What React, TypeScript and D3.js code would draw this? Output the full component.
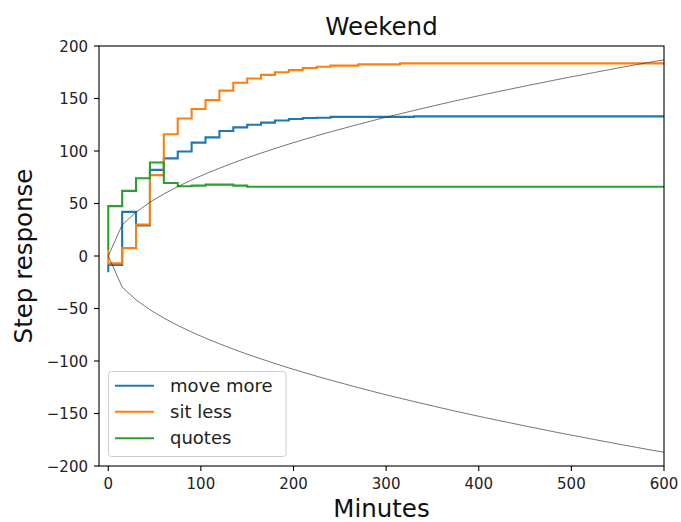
import React from "react";
import * as d3 from "d3";

// time grid (minutes), 15-minute steps
const minutes: number[] = [
  0, 15, 30, 45, 60, 75, 90, 105, 120, 135, 150, 165, 180, 195, 210, 225, 240, 255, 270, 285,
  300, 315, 330, 345, 360, 375, 390, 405, 420, 435, 450, 465, 480, 495, 510, 525, 540, 555, 570, 585, 600,
];

const moveMore: number[] = [
  -15.5, -8.5, 42, 29, 82, 93, 99.5, 108, 113, 119, 122.5, 125, 127, 129, 130.5, 131.5, 131.7, 132.5, 132.5, 132.5,
  132.5, 132.5, 132.5, 133, 133, 133, 133, 133, 133, 133, 133, 133, 133, 133, 133, 133, 133, 133, 133, 133, 133,
];

const sitLess: number[] = [
  5.5, -7, 7.5, 30, 77, 116, 131, 140, 148.5, 157.5, 165, 169, 172.5, 175, 177, 179, 180.3, 181.3, 181.3, 182.5,
  182.5, 182.5, 183.5, 183.5, 183.5, 183.5, 183.5, 183.5, 183.5, 183.5, 183.5, 183.5, 183.5, 183.5, 183.5, 183.5,
  183.5, 183.5, 183.5, 183.5, 183.5,
];

const quotes: number[] = [
  5.7, 47.5, 62, 74, 89, 69.5, 66.5, 67, 68, 68, 67, 66, 66, 66, 66, 66, 66, 66, 66, 66,
  66, 66, 66, 66, 66, 66, 66, 66, 66, 66, 66, 66, 66, 66, 66, 66, 66, 66, 66, 66, 66,
];

// upper / lower gray bound curves
const boundUpper: number[] = [
  0, 29.6, 41.8, 51.2, 59.1, 66.1, 72.4, 78.2, 83.6, 88.7, 93.5, 98.0, 102.4, 106.6, 110.6, 114.5, 118.2, 121.8,
  125.4, 128.8, 132.2, 135.4, 138.6, 141.7, 144.8, 147.8, 150.7, 153.6, 156.4, 159.1, 161.9, 164.5, 167.2, 169.8,
  172.3, 174.8, 177.3, 179.8, 182.2, 184.6, 186.9,
];
const boundLower: number[] = boundUpper.map((v) => -v);

const seriesNames = ["move more", "sit less", "quotes"];
const seriesValues = [moveMore, sitLess, quotes];
const seriesColors = ["#1f77b4", "#ff7f0e", "#2ca02c"];

const xTicks = [0, 100, 200, 300, 400, 500, 600];
const yTicks = [-200, -150, -100, -50, 0, 50, 100, 150, 200];

const FONT = "'DejaVu Sans', sans-serif";

export default function App() {
  const W = 681;
  const H = 522;
  const left = 99;
  const right = 664;
  const top = 46;
  const bottom = 466;

  const x = d3.scaleLinear().domain([-10, 600]).range([left, right]);
  const y = d3.scaleLinear().domain([-200, 200]).range([bottom, top]);

  const stepLine = d3
    .line<number>()
    .x((_, i) => x(minutes[i]))
    .y((d) => y(d))
    .curve(d3.curveStepBefore);

  const smoothLine = d3
    .line<number>()
    .x((_, i) => x(minutes[i]))
    .y((d) => y(d));

  const legendRows = [385.7, 411.8, 438.3];

  return (
    <svg
      width={W}
      height={H}
      style={{ position: "absolute", left: 0, top: 0, background: "#fff" }}
      fontFamily={FONT}
    >
      <defs>
        <clipPath id="plotclip">
          <rect x={left} y={top} width={right - left} height={bottom - top} />
        </clipPath>
      </defs>
      <rect x={0} y={0} width={W} height={H} fill="#fff" />

      <g clipPath="url(#plotclip)">
        {seriesValues.map((vals, k) => (
          <path
            key={seriesNames[k]}
            d={stepLine(vals) || ""}
            fill="none"
            stroke={seriesColors[k]}
            strokeWidth={2.1}
            strokeLinejoin="miter"
          />
        ))}
        <path d={smoothLine(boundUpper) || ""} fill="none" stroke="#333" strokeWidth={0.8} strokeOpacity={0.85} />
        <path d={smoothLine(boundLower) || ""} fill="none" stroke="#333" strokeWidth={0.8} strokeOpacity={0.85} />
      </g>

      {/* spines */}
      <rect x={left} y={top} width={right - left} height={bottom - top} fill="none" stroke="#000" strokeWidth={1.1} />

      {/* x ticks */}
      {xTicks.map((t) => (
        <g key={"x" + t}>
          <line x1={x(t)} x2={x(t)} y1={bottom} y2={bottom + 5} stroke="#000" strokeWidth={1.1} />
          <text x={x(t)} y={488.5} textAnchor="middle" fontSize={15} fill="#222">
            {t}
          </text>
        </g>
      ))}

      {/* y ticks */}
      {yTicks.map((t) => (
        <g key={"y" + t}>
          <line x1={left - 5} x2={left} y1={y(t)} y2={y(t)} stroke="#000" strokeWidth={1.1} />
          <text x={88} y={y(t) + 5.5} textAnchor="end" fontSize={15} fill="#222">
            {t < 0 ? "\u2212" + Math.abs(t) : t}
          </text>
        </g>
      ))}

      {/* title & labels */}
      <text x={(left + right) / 2} y={35} textAnchor="middle" fontSize={24.5} fill="#111">
        Weekend
      </text>
      <text x={(left + right) / 2} y={517} textAnchor="middle" fontSize={24.5} fill="#111">
        Minutes
      </text>
      <text
        transform={`translate(32, ${(top + bottom) / 2}) rotate(-90)`}
        textAnchor="middle"
        fontSize={24.5}
        fill="#111"
      >
        Step response
      </text>

      {/* legend */}
      <rect x={108.5} y={371.5} width={177.5} height={85} rx={3} fill="#fff" fillOpacity={0.8} stroke="#ccc" strokeWidth={1} />
      {seriesNames.map((name, k) => (
        <g key={"lg" + name}>
          <line x1={115} x2={154} y1={legendRows[k]} y2={legendRows[k]} stroke={seriesColors[k]} strokeWidth={2.1} />
          <text x={170} y={legendRows[k] + 6} fontSize={18} fill="#222">
            {name}
          </text>
        </g>
      ))}
    </svg>
  );
}
